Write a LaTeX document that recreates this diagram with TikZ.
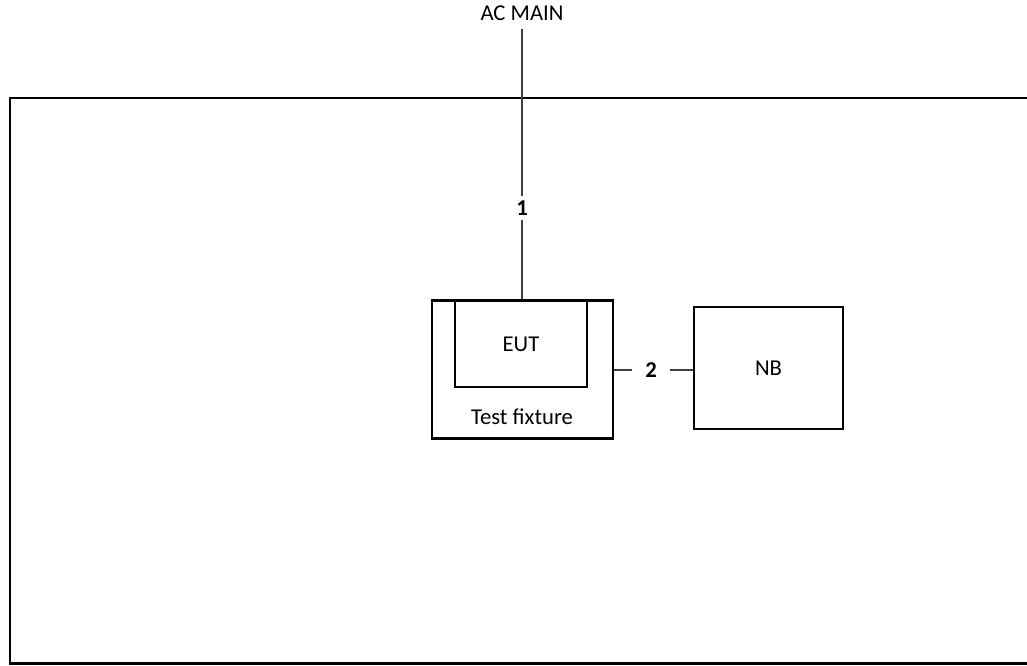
\documentclass[tikz,border=0pt]{standalone}
\usepackage{fontspec}
\setmainfont{Carlito}
\begin{document}
\begin{tikzpicture}[x=0.75pt,y=-0.75pt,
  every node/.style={font=\fontsize{17}{20}\selectfont},
  box/.style={draw,line width=2pt,inner sep=0pt},
  tag/.style={inner xsep=10pt,inner ysep=3pt,font=\fontsize{17}{20}\selectfont\bfseries},
  wire/.style={line width=1pt,black!75}]
\clip (0,0) rectangle (1027,665);
% outer room
\draw[line width=2pt] (1040,98) -- (10,98) -- (10,663.5) -- (1040,663.5);
% equipment
\node[box,minimum width=135.75pt,minimum height=103.5pt] (fixture) at (522.5,369.5) {};
\node[box,minimum width=99pt,minimum height=64.5pt] (eut) at (521,344) {EUT};
\node (fixlabel) at (522,417) {Test fixture};
\node[box,minimum width=111.75pt,minimum height=91.5pt] (nb) at (768.5,368) {NB};
% supply and cables
\node[inner ysep=6pt] (acmain) at (522,13) {AC MAIN};
\node[tag] (cable1) at (522,208) {1};
\node[tag] (cable2) at (651,370) {2};
\draw[wire] (acmain) -- (cable1) -- (cable1 |- fixture.north);
\draw[wire] (fixture.east |- cable2) -- (cable2) -- (nb.west |- cable2);
\end{tikzpicture}
\end{document}
